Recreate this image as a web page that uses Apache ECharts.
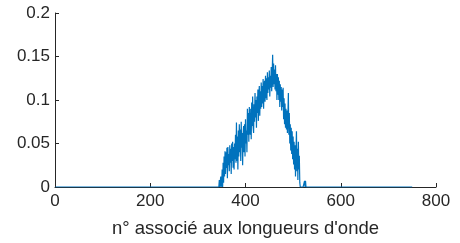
<!DOCTYPE html>
<html>
<head>
<meta charset="utf-8">
<script src="https://cdn.jsdelivr.net/npm/echarts@6/dist/echarts.min.js"></script>
<style>
  html, body { margin: 0; padding: 0; background: #fff; }
  #main { width: 460px; height: 243px; }
</style>
</head>
<body>
<div id="main"></div>
<script>
var xTicks = [0, 200, 400, 600, 800];
var yTicks = [0, 0.05, 0.1, 0.15, 0.2];

// flat part before and after the peak
var leadX = [1, 344];
var tailX = [531, 750];

// values, one per index starting at 345
var peakStart = 345;
var peakValues = [
  0.008, 0, 0, 0.012, 0, 0.004, 0.02, 0, 0.028, 0.005,
  0.035, 0.012, 0.041, 0.015, 0.04, 0.022, 0.045, 0.01, 0.046, 0.025, 0.038,
  0.018, 0.048, 0.028, 0.044, 0.015, 0.05, 0.03, 0.052, 0.022, 0.046, 0.02, 0.05, 0.032, 0.06, 0.028,
  0.074, 0.03, 0.058, 0.02, 0.065, 0.035, 0.072, 0.04, 0.066, 0.03, 0.075, 0.045, 0.062, 0.025, 0.06,
  0.07, 0.04, 0.072, 0.035, 0.078, 0.05, 0.065, 0.04, 0.09, 0.06, 0.085, 0.052, 0.092, 0.065, 0.06,
  0.09, 0.055, 0.097, 0.07, 0.104, 0.07, 0.062, 0.095, 0.075, 0.108, 0.08, 0.1, 0.068, 0.104, 0.085,
  0.112, 0.076, 0.104, 0.116, 0.082, 0.11, 0.09, 0.12, 0.092, 0.116, 0.096, 0.124, 0.09, 0.114, 0.122,
  0.098, 0.128, 0.102, 0.125, 0.1, 0.132, 0.108, 0.126, 0.112, 0.134, 0.104, 0.128, 0.114, 0.138, 0.11,
  0.13, 0.152, 0.115, 0.142, 0.118, 0.135, 0.112, 0.14, 0.11, 0.13, 0.1, 0.13, 0.106, 0.126, 0.1,
  0.122, 0.092, 0.118, 0.098, 0.115, 0.088, 0.112, 0.092, 0.114, 0.078, 0.102, 0.072, 0.096, 0.068, 0.09,
  0.066, 0.088, 0.062, 0.082, 0.108, 0.06, 0.085, 0.05, 0.072, 0.042, 0.068, 0.038, 0.064, 0.032, 0.058,
  0.026, 0.052, 0.02, 0.048, 0.012, 0.04, 0.064, 0.018, 0.044, 0.008, 0.052, 0.02, 0.036, 0.005, 0,
  0, 0, 0, 0, 0, 0, 0, 0, 0.007, 0, 0.007, 0, 0, 0, 0
];

var points = [];
leadX.forEach(function (x) { points.push([x, 0]); });
peakValues.forEach(function (v, i) { points.push([peakStart + i, v]); });
tailX.forEach(function (x) { points.push([x, 0]); });

var axisColor = '#262626';
var font = 'Liberation Sans, Arial, sans-serif';

var myChart = echarts.init(document.getElementById('main'));
var option = {
  animation: false,
  grid: { left: 55, right: 24, top: 13, bottom: 55 },
  xAxis: {
    type: 'value',
    min: xTicks[0],
    max: xTicks[xTicks.length - 1],
    interval: 200,
    name: "n° associé aux longueurs d'onde",
    nameLocation: 'middle',
    nameGap: 32,
    nameTextStyle: { color: axisColor, fontSize: 18.5, fontFamily: font },
    axisLine: { lineStyle: { color: axisColor, width: 1 } },
    axisTick: { inside: true, length: 4, lineStyle: { color: axisColor } },
    axisLabel: { color: axisColor, fontSize: 17, fontFamily: font, margin: 6 },
    splitLine: { show: false }
  },
  yAxis: {
    type: 'value',
    min: yTicks[0],
    max: yTicks[yTicks.length - 1],
    interval: 0.05,
    axisLine: { show: true, lineStyle: { color: axisColor, width: 1 } },
    axisTick: { show: true, inside: true, length: 4, lineStyle: { color: axisColor } },
    axisLabel: { color: axisColor, fontSize: 17, fontFamily: font, margin: 5 },
    splitLine: { show: false }
  },
  series: [
    {
      type: 'line',
      data: points,
      showSymbol: false,
      lineStyle: { color: '#0072BD', width: 1.2 },
      itemStyle: { color: '#0072BD' }
    }
  ]
};

option && myChart.setOption(option);
</script>
</body>
</html>
